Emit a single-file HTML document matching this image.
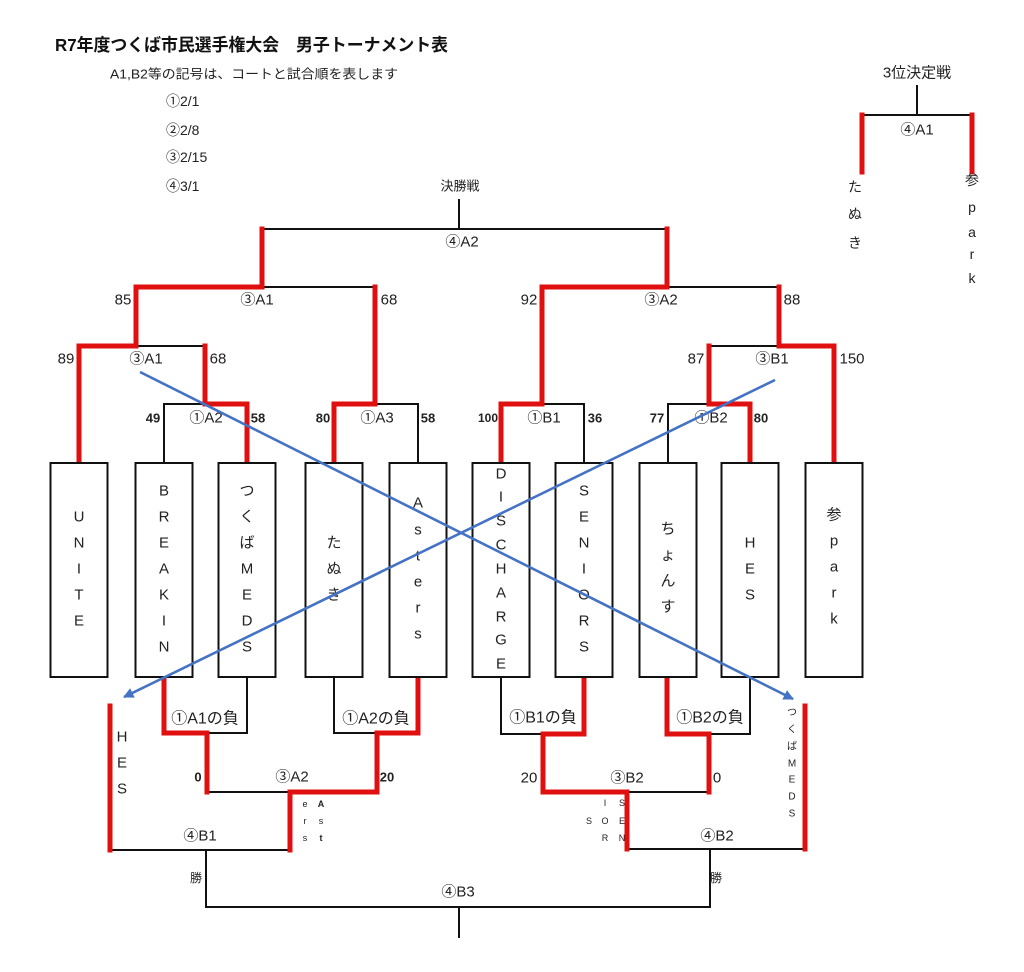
<!DOCTYPE html>
<html><head><meta charset="utf-8">
<style>
html,body{margin:0;padding:0;background:#fff;}
svg{display:block;}
text{font-family:"Liberation Sans","Noto Sans CJK JP",sans-serif;fill:#222;}
.c{text-anchor:middle;dominant-baseline:central;}
.l{font-size:15px;}
.b{font-size:13px;font-weight:bold;fill:#111;}
.v{font-size:15px;}
.s{font-size:9px;}
</style></head>
<body>
<svg width="1024" height="972" viewBox="0 0 1024 972" xmlns="http://www.w3.org/2000/svg">
<rect width="1024" height="972" fill="#fff"/>

<!-- header -->
<text x="55" y="45" dominant-baseline="central" style="font-size:17.5px;font-weight:bold;fill:#111" textLength="393" lengthAdjust="spacingAndGlyphs">R7年度つくば市民選手権大会　男子トーナメント表</text>
<text x="110" y="74" dominant-baseline="central" style="font-size:13px" textLength="288" lengthAdjust="spacingAndGlyphs">A1,B2等の記号は、コートと試合順を表します</text>
<text x="166" y="101" dominant-baseline="central" style="font-size:14px">①2/1</text>
<text x="166" y="130" dominant-baseline="central" style="font-size:14px">②2/8</text>
<text x="166" y="157" dominant-baseline="central" style="font-size:14px">③2/15</text>
<text x="166" y="186" dominant-baseline="central" style="font-size:14px">④3/1</text>
<text class="c" x="460" y="186" style="font-size:13px">決勝戦</text>

<!-- black lines -->
<g stroke="#111" stroke-width="2" fill="none" stroke-linecap="square">
  <path d="M459 200V229"/>
  <path d="M262 229H667"/>
  <path d="M262 287H375"/>
  <path d="M136 346H205"/>
  <path d="M164 404H205M164 404V463"/>
  <path d="M375 404H418V463"/>
  <path d="M667 287H779"/>
  <path d="M709 346H779"/>
  <path d="M542 404H584V463"/>
  <path d="M668 404H709M668 404V463"/>
  <!-- bottom -->
  <path d="M207 733H247V677"/>
  <path d="M207 792H290"/>
  <path d="M334 677V733H377"/>
  <path d="M110 850H290"/>
  <path d="M206 850V907H710V850"/>
  <path d="M459 907V937"/>
  <path d="M501 677V734H543"/>
  <path d="M627 792H709"/>
  <path d="M709 734H750V677"/>
  <path d="M627 849H805"/>
  <!-- 3rd place -->
  <path d="M917 86V115M862 115H972"/>
</g>

<!-- red lines -->
<g stroke="#e01010" stroke-width="5" fill="none" stroke-linejoin="miter" stroke-linecap="square">
  <path d="M262 229V287H136V346H79V463"/>
  <path d="M205 346V404H247V463"/>
  <path d="M375 287V404H334V463"/>
  <path d="M667 229V287H542V404H501V463"/>
  <path d="M779 287V346H834V463"/>
  <path d="M709 346V404H750V463"/>
  <!-- bottom -->
  <path d="M164 677V733H207V792"/>
  <path d="M418 677V733H377V792H290V850"/>
  <path d="M110 706V850"/>
  <path d="M584 677V734H543V792H627V849"/>
  <path d="M667 677V734H709V792"/>
  <path d="M805 706V849"/>
  <path d="M862 115V172M972 115V172"/>
</g>

<!-- boxes -->
<g stroke="#111" stroke-width="2" fill="#fff">
  <rect x="50.5" y="463" width="57" height="214"/>
  <rect x="135.5" y="463" width="57" height="214"/>
  <rect x="218.5" y="463" width="57" height="214"/>
  <rect x="305.5" y="463" width="57" height="214"/>
  <rect x="389.5" y="463" width="57" height="214"/>
  <rect x="472.5" y="463" width="57" height="214"/>
  <rect x="555.5" y="463" width="57" height="214"/>
  <rect x="639.5" y="463" width="57" height="214"/>
  <rect x="721.5" y="463" width="57" height="214"/>
  <rect x="805.5" y="463" width="57" height="214"/>
</g>

<!-- box text -->
<g class="v">
  <text class="c" x="79" y="517">U</text><text class="c" x="79" y="543">N</text><text class="c" x="79" y="569">I</text><text class="c" x="79" y="595">T</text><text class="c" x="79" y="621">E</text>
  <text class="c" x="164" y="491">B</text><text class="c" x="164" y="517">R</text><text class="c" x="164" y="543">E</text><text class="c" x="164" y="569">A</text><text class="c" x="164" y="595">K</text><text class="c" x="164" y="621">I</text><text class="c" x="164" y="647">N</text>
  <text class="c" x="247" y="491">つ</text><text class="c" x="247" y="517">く</text><text class="c" x="247" y="543">ば</text><text class="c" x="247" y="569">M</text><text class="c" x="247" y="595">E</text><text class="c" x="247" y="621">D</text><text class="c" x="247" y="647">S</text>
  <text class="c" x="334" y="543">た</text><text class="c" x="334" y="569">ぬ</text><text class="c" x="334" y="595">き</text>
  <text class="c" x="418" y="503">A</text><text class="c" x="418" y="530">s</text><text class="c" x="418" y="556">t</text><text class="c" x="418" y="582">e</text><text class="c" x="418" y="608">r</text><text class="c" x="418" y="634">s</text>
  <text class="c" x="501" y="474">D</text><text class="c" x="501" y="497">I</text><text class="c" x="501" y="521">S</text><text class="c" x="501" y="545">C</text><text class="c" x="501" y="569">H</text><text class="c" x="501" y="593">A</text><text class="c" x="501" y="617">R</text><text class="c" x="501" y="640">G</text><text class="c" x="501" y="664">E</text>
  <text class="c" x="584" y="491">S</text><text class="c" x="584" y="517">E</text><text class="c" x="584" y="543">N</text><text class="c" x="584" y="569">I</text><text class="c" x="584" y="595">O</text><text class="c" x="584" y="621">R</text><text class="c" x="584" y="647">S</text>
  <text class="c" x="668" y="529">ち</text><text class="c" x="668" y="555">ょ</text><text class="c" x="668" y="581">ん</text><text class="c" x="668" y="607">す</text>
  <text class="c" x="750" y="543">H</text><text class="c" x="750" y="569">E</text><text class="c" x="750" y="595">S</text>
  <text class="c" x="834" y="515">参</text><text class="c" x="834" y="541">p</text><text class="c" x="834" y="567">a</text><text class="c" x="834" y="593">r</text><text class="c" x="834" y="619">k</text>
</g>

<!-- upper labels -->
<g class="l">
  <text class="c" x="462" y="242">④A2</text>
  <text class="c" x="123" y="300">85</text><text class="c" x="257" y="300">③A1</text><text class="c" x="389" y="300">68</text>
  <text class="c" x="66" y="359">89</text><text class="c" x="146" y="359">③A1</text><text class="c" x="218" y="359">68</text>
  <text class="c" x="206" y="418">①A2</text><text class="c" x="377" y="418">①A3</text>
  <text class="c" x="529" y="300">92</text><text class="c" x="661" y="300">③A2</text><text class="c" x="792" y="300">88</text>
  <text class="c" x="696" y="359">87</text><text class="c" x="772" y="359">③B1</text><text class="c" x="852" y="359">150</text>
  <text class="c" x="544" y="418">①B1</text><text class="c" x="711" y="418">①B2</text>
</g>
<g class="b">
  <text class="c" x="153" y="418">49</text><text class="c" x="258" y="418">58</text>
  <text class="c" x="323" y="418">80</text><text class="c" x="428" y="418">58</text>
  <text class="c" x="488" y="418" style="font-size:12px">100</text><text class="c" x="595" y="418">36</text>
  <text class="c" x="657" y="418">77</text><text class="c" x="761" y="418">80</text>
</g>

<!-- lower labels -->
<g class="l">
  <text class="c" x="205" y="719" style="font-size:16px">①A1の負</text>
  <text class="c" x="376" y="719" style="font-size:16px">①A2の負</text>
  <text class="c" x="292" y="777">③A2</text>
  <text class="c" x="200" y="836">④B1</text>
  <text class="c" x="543" y="718" style="font-size:16px">①B1の負</text>
  <text class="c" x="710" y="718" style="font-size:16px">①B2の負</text>
  <text class="c" x="529" y="778">20</text>
  <text class="c" x="627" y="778">③B2</text>
  <text class="c" x="717" y="778">0</text>
  <text class="c" x="717" y="836">④B2</text>
  <text class="c" x="458" y="892">④B3</text>
  <text class="c" x="122" y="737">H</text><text class="c" x="122" y="763">E</text><text class="c" x="122" y="789">S</text>
</g>
<g class="b">
  <text class="c" x="198" y="777">0</text>
  <text class="c" x="387" y="777">20</text>
</g>
<text class="c" x="196" y="878" style="font-size:12px">勝</text>
<text class="c" x="716" y="878" style="font-size:12px">勝</text>

<!-- small rotated-ish names -->
<g class="s">
  <text class="c" x="305" y="804">e</text><text class="c" x="305" y="821">r</text><text class="c" x="305" y="838">s</text>
  <text class="c" x="321" y="804" style="font-weight:bold">A</text><text class="c" x="321" y="821">s</text><text class="c" x="321" y="838" style="font-weight:bold">t</text>
  <text class="c" x="589" y="821">S</text>
  <text class="c" x="605" y="803">I</text><text class="c" x="605" y="821">O</text><text class="c" x="605" y="838">R</text>
  <text class="c" x="622" y="803">S</text><text class="c" x="622" y="821">E</text><text class="c" x="622" y="838">N</text>
</g>
<g style="font-size:10px">
  <text class="c" x="792" y="713">つ</text><text class="c" x="792" y="730">く</text><text class="c" x="792" y="747">ば</text><text class="c" x="792" y="764">M</text><text class="c" x="792" y="780">E</text><text class="c" x="792" y="797">D</text><text class="c" x="792" y="814">S</text>
</g>

<!-- 3rd place -->
<text class="c" x="917" y="73" style="font-size:15px">3位決定戦</text>
<text class="c" x="917" y="130" style="font-size:15px">④A1</text>
<g style="font-size:14px">
  <text class="c" x="855" y="187">た</text><text class="c" x="855" y="214">ぬ</text><text class="c" x="855" y="243">き</text>
  <text class="c" x="972" y="180">参</text><text class="c" x="972" y="207">p</text><text class="c" x="972" y="232">a</text><text class="c" x="972" y="254">r</text><text class="c" x="972" y="278">k</text>
</g>

<!-- blue arrows -->
<defs>
  <marker id="ah" viewBox="0 0 10 10" refX="9" refY="5" markerWidth="4" markerHeight="4" orient="auto" markerUnits="strokeWidth">
    <path d="M0 0L10 5L0 10z" fill="#4472c4"/>
  </marker>
</defs>
<g stroke="#4472c4" stroke-width="2.6" fill="none">
  <line x1="140" y1="372" x2="793" y2="699" marker-end="url(#ah)"/>
  <line x1="775" y1="380" x2="124" y2="697" marker-end="url(#ah)"/>
</g>
</svg>
</body></html>
